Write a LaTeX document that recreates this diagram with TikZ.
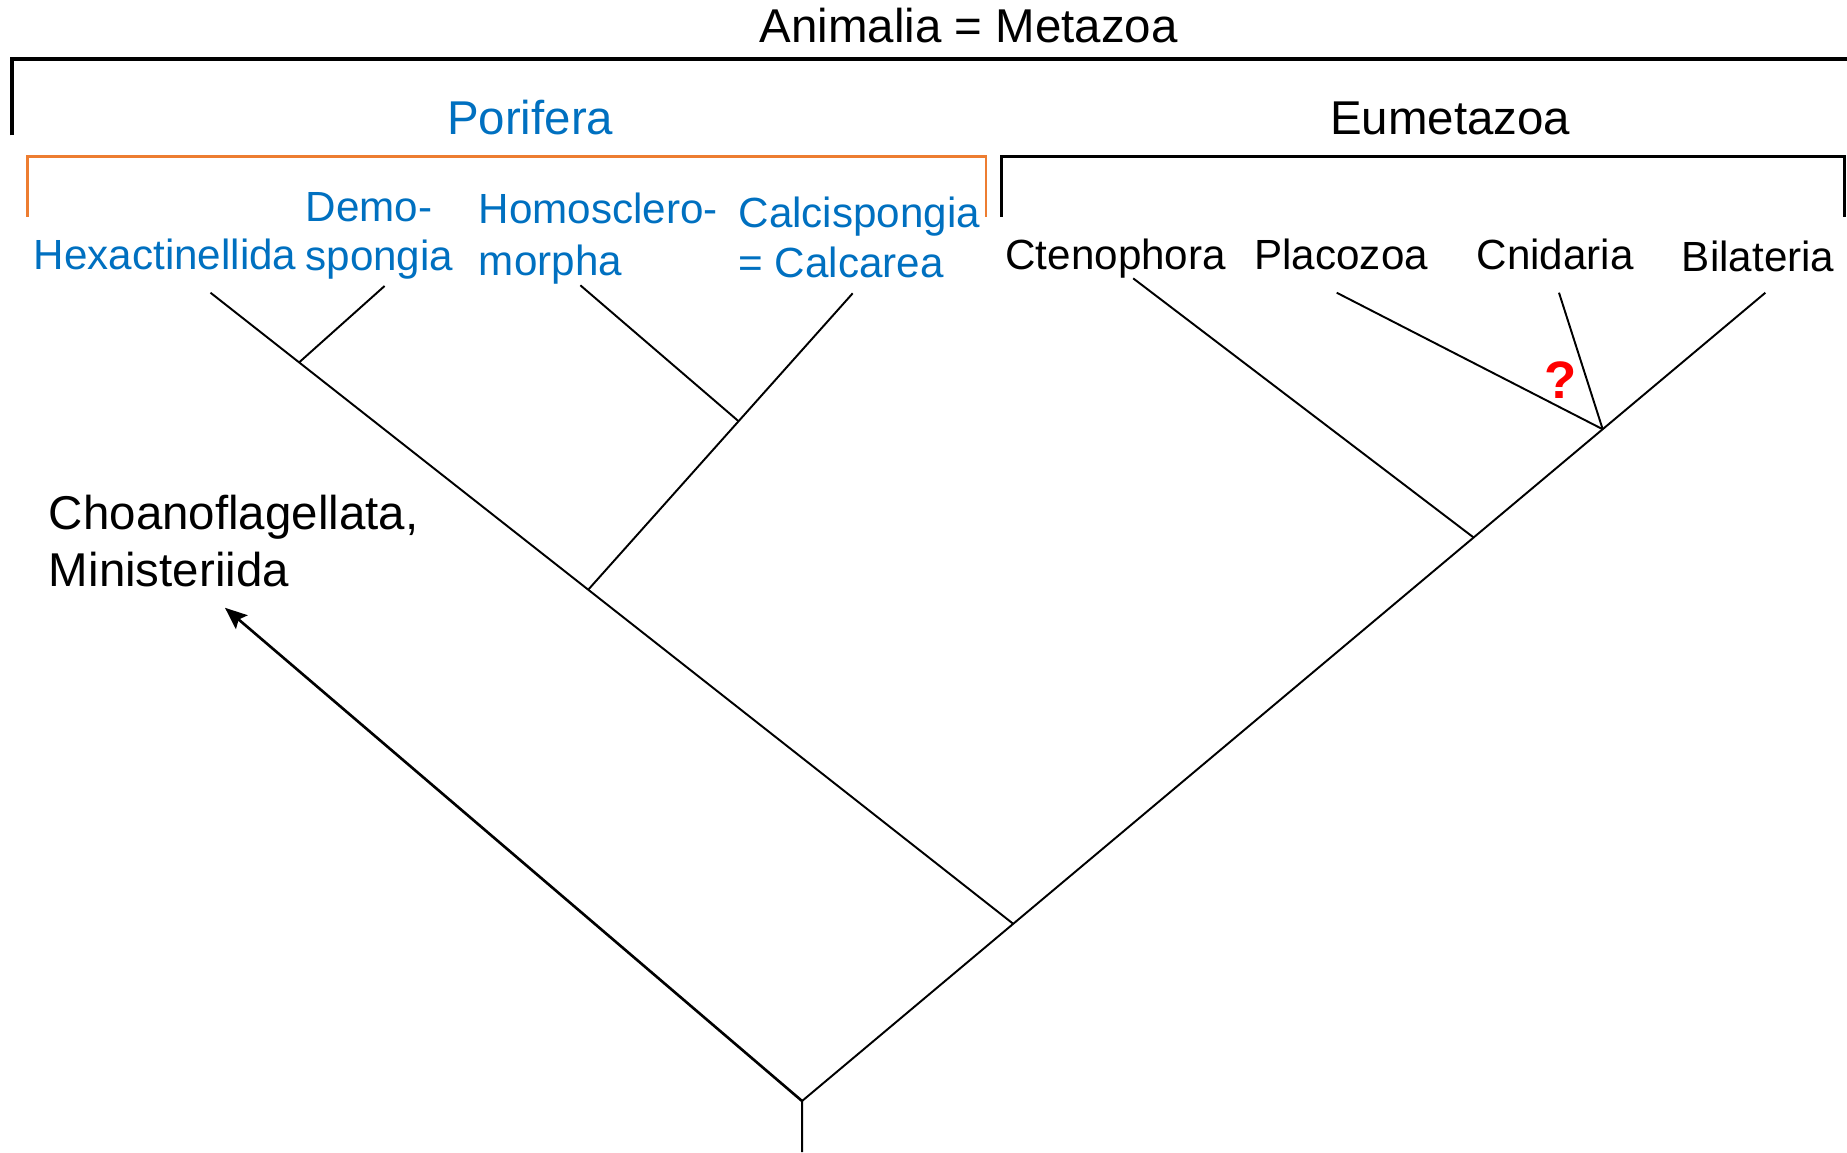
\documentclass[tikz,border=0pt]{standalone}
\usepackage{fontspec}
\setmainfont{Liberation Sans}
\usetikzlibrary{arrows.meta}
\definecolor{pblue}{HTML}{0070C0}
\definecolor{porange}{HTML}{ED7D31}
\begin{document}
\begin{tikzpicture}[x=0.011779cm,y=-0.011779cm,
  big/.style={font=\fontsize{13.5}{16}\selectfont, inner sep=0pt, anchor=base west},
  taxon/.style={font=\fontsize{12}{14}\selectfont, inner sep=0pt, anchor=base west},
  sponge/.style={taxon, text=pblue},
  branch/.style={line width=0.55pt},
  arrowline/.style={line width=0.75pt, -{Stealth[length=2.2mm,width=1.8mm,inset=0.4mm]}},
  qmark/.style={font=\fontsize{15}{18}\selectfont\bfseries, text=red, inner sep=0pt}]
\useasboundingbox (0,0) rectangle (1568,978);

% headers
\node[big] (anim) at (644.3,35.9) {Animalia = Metazoa};
\node[big,text=pblue] (por) at (379,114.6) {Porifera};
\node[big] (eum) at (1128.7,114.6) {Eumetazoa};

% brackets
\draw[line width=1pt] (10,115) -- (10,50) -- (1568,50);
\draw[porange, line width=0.8pt] (23.5,184) -- (23.5,133) -- (837,133) -- (837,184);
\draw[line width=0.8pt] (850,184) -- (850,133) -- (1566,133) -- (1566,184);

% taxa labels
\node[sponge] (hex) at (28.2,228.6) {Hexactinellida};
\node[sponge] (demoA) at (258.8,188) {Demo-};
\node[sponge] (demoB) at (258.8,229.8) {spongia};
\node[sponge] (homoA) at (406,189.6) {Homosclero-};
\node[sponge] (homoB) at (406,233.5) {morpha};
\node[sponge] (calcA) at (626.4,193) {Calcispongia};
\node[sponge] (calcB) at (626.4,235.4) {= Calcarea};
\node[taxon] (cte) at (853,228.7) {Ctenophora};
\node[taxon] (pla) at (1064.4,228.7) {Placozoa};
\node[taxon] (cni) at (1253,228.7) {Cnidaria};
\node[taxon] (bil) at (1427.3,230.6) {Bilateria};
\node[big] (choA) at (41,449.7) {Choanoflagellata,};
\node[big] (choB) at (41,497.9) {Ministeriida};

% tree coordinates
\coordinate (root) at (680.9,934.7);
\coordinate (base) at (680.9,978);
\coordinate (nP) at (860.2,784.3);
\coordinate (nPP) at (499.5,500.5);
\coordinate (nHD) at (254,307.6);
\coordinate (nHC) at (627,357.6);
\coordinate (nCt) at (1251,456.3);
\coordinate (nPC) at (1360.6,364.4);
\coordinate (tHex) at (178.7,248.5);
\coordinate (tDem) at (326.5,242.8);
\coordinate (tHom) at (492.7,242.2);
\coordinate (tCal) at (723.9,249);
\coordinate (tCte) at (962,236.3);
\coordinate (tPla) at (1134.8,248.5);
\coordinate (tCni) at (1323.5,248.5);
\coordinate (tBil) at (1498.7,248.5);
\coordinate (tCho) at (191,516);

% branches
\draw[branch] (base) -- (root) -- (tBil);
\draw[branch] (nP) -- (tHex);
\draw[branch] (nHD) -- (tDem);
\draw[branch] (nPP) -- (tCal);
\draw[branch] (nHC) -- (tHom);
\draw[branch] (nCt) -- (tCte);
\draw[branch] (nPC) -- (tPla);
\draw[branch] (nPC) -- (tCni);
\draw[arrowline] (root) -- (tCho);

\node[qmark] (q) at (1325.2,322.6) {?};
\end{tikzpicture}
\end{document}
